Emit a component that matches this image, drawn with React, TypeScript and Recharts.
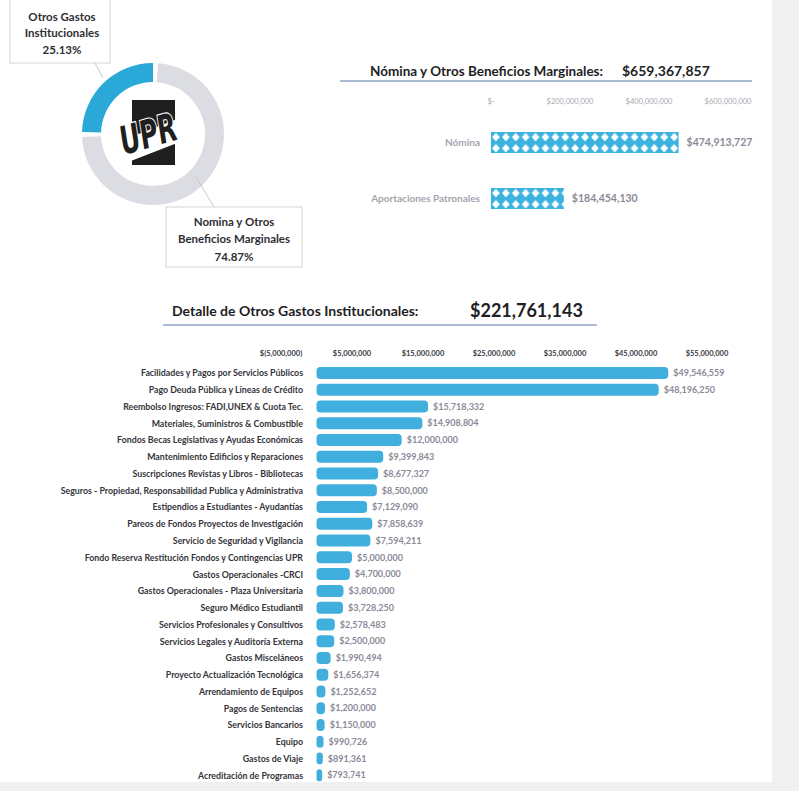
import React from "react";
import { BarChart, Bar, XAxis, YAxis, LabelList, PieChart, Pie, Cell } from "recharts";

const FONT = "Lato, 'Open Sans', sans-serif";

// === Distribución general (dona) ===
const resumenNombres = ["Otros Gastos Institucionales", "Nómina y Otros Beneficios Marginales"];
const resumenPct = [25.13, 74.87];
const resumenColores = ["#2aa9d9", "#dcdde3"];

// === Nómina y Otros Beneficios Marginales ===
const nominaTotal = "$659,367,857";
const nominaCategorias = ["Nómina", "Aportaciones Patronales"];
const nominaValores = [474913727, 184454130];
const nominaTicks = [0, 200000000, 400000000, 600000000];

// === Detalle de Otros Gastos Institucionales ===
const gastosTotal = "$221,761,143";
const gastosCategorias = [
  "Facilidades y Pagos por Servicios Públicos",
  "Pago Deuda Pública y Líneas de Crédito",
  "Reembolso Ingresos: FADI,UNEX & Cuota Tec.",
  "Materiales, Suministros & Combustible",
  "Fondos Becas Legislativas y Ayudas Económicas",
  "Mantenimiento Edificios y Reparaciones",
  "Suscripciones Revistas y Libros - Bibliotecas",
  "Seguros - Propiedad, Responsabilidad Publica y Administrativa",
  "Estipendios a Estudiantes  - Ayudantías",
  "Pareos de Fondos Proyectos de Investigación",
  "Servicio de  Seguridad y Vigilancia",
  "Fondo Reserva Restitución Fondos y Contingencias UPR",
  "Gastos Operacionales -CRCI",
  "Gastos Operacionales - Plaza Universitaria",
  "Seguro Médico Estudiantil",
  "Servicios Profesionales y Consultivos",
  "Servicios Legales y Auditoría Externa",
  "Gastos Misceláneos",
  "Proyecto Actualización Tecnológica",
  "Arrendamiento de Equipos",
  "Pagos de Sentencias",
  "Servicios  Bancarios",
  "Equipo",
  "Gastos de Viaje",
  "Acreditación de Programas",
];
const gastosValores = [
  49546559, 48196250, 15718332, 14908804, 12000000, 9399843, 8677327, 8500000,
  7129090, 7858639, 7594211, 5000000, 4700000, 3800000, 3728250, 2578483,
  2500000, 1990494, 1656374, 1252652, 1200000, 1150000, 990726, 891361, 793741,
];
const gastosTicks = [-5000000, 5000000, 15000000, 25000000, 35000000, 45000000, 55000000];

const moneda = (v: number) => {
  if (v === 0) return "$-";
  if (v < 0) return `$(${Math.abs(v).toLocaleString("en-US")})`;
  return `$${v.toLocaleString("en-US")}`;
};

const GastoTick = ({ x, y, payload }: any) => (
  <text
    x={x + 22}
    y={y}
    dy={3}
    textAnchor="end"
    fontSize={8.8}
    fontWeight={700}
    fill="#34343a"
    fontFamily={FONT}
  >
    {payload.value}
  </text>
);

export default function App() {
  const resumenData = resumenNombres.map((n, i) => ({ nombre: n, valor: resumenPct[i] }));
  const nominaData = nominaCategorias.map((c, i) => ({ categoria: c, valor: nominaValores[i] }));
  const gastosData = gastosCategorias.map((c, i) => ({ categoria: c, valor: gastosValores[i] }));

  return (
    <div
      style={{
        position: "absolute",
        left: 0,
        top: 0,
        width: 799,
        height: 791,
        background: "#ffffff",
        overflow: "hidden",
        fontFamily: FONT,
      }}
    >
      {/* === Franjas grises del escaneo === */}
      <div style={{ position: "absolute", left: 772, top: 0, width: 27, height: 791, background: "#eef1f0" }} />
      <div style={{ position: "absolute", left: 0, top: 782, width: 799, height: 9, background: "#eef1f0" }} />

      {/* === Dona === */}
      <div style={{ position: "absolute", left: 0, top: 0 }}>
        <PieChart width={300} height={270}>
          <Pie
            data={resumenData}
            dataKey="valor"
            nameKey="nombre"
            cx={148}
            cy={129}
            innerRadius={52}
            outerRadius={71}
            startAngle={90}
            endAngle={450}
            paddingAngle={4}
            stroke="none"
            isAnimationActive={false}
          >
            {resumenData.map((_, i) => (
              <Cell key={i} fill={resumenColores[i]} />
            ))}
          </Pie>
        </PieChart>
      </div>

      {/* === Nómina === */}
      <div style={{ position: "absolute", left: 0, top: 80 }}>
        <BarChart
          width={799}
          height={150}
          layout="vertical"
          data={nominaData}
          margin={{ top: 14, right: 71, bottom: 4, left: 0 }}
          barCategoryGap={0}
        >
          <defs>
            <pattern id="rombos" x="491" y="51.5" width="9.9" height="11.2" patternUnits="userSpaceOnUse">
              <rect width="9.9" height="11.2" fill="#3cb3de" />
              <polygon points="4.95,1.3 8.8,5.6 4.95,9.9 1.1,5.6" fill="#ffffff" />
            </pattern>
          </defs>
          <XAxis
            type="number"
            orientation="top"
            domain={[0, 600000000]}
            ticks={nominaTicks}
            tickFormatter={moneda}
            height={20}
            axisLine={false}
            tickLine={false}
            tickSize={0}
            tickMargin={10}
            tick={{ fontSize: 7.5, fill: "#a8a8b2", fontFamily: FONT }}
          />
          <YAxis
            type="category"
            dataKey="categoria"
            width={491}
            axisLine={false}
            tickLine={false}
            tickSize={0}
            tickMargin={11}
            tick={{ fontSize: 10, fill: "#a4a4ae", fontWeight: 700, fontFamily: FONT }}
          />
          <Bar dataKey="valor" fill="url(#rombos)" barSize={21} isAnimationActive={false}>
            <LabelList
              dataKey="valor"
              position="right"
              offset={8}
              formatter={(v: any) => moneda(Number(v))}
              style={{ fontSize: 10.5, fill: "#8a8a96", fontWeight: 700, fontFamily: FONT }}
            />
          </Bar>
        </BarChart>
      </div>

      {/* === Otros gastos === */}
      <div style={{ position: "absolute", left: 0, top: 330 }}>
        <BarChart
          width={799}
          height={454}
          layout="vertical"
          data={gastosData}
          margin={{ top: 15, right: 92, bottom: 0, left: 0 }}
          barCategoryGap={0}
        >
          <XAxis
            type="number"
            orientation="top"
            domain={[-5000000, 55000000]}
            ticks={gastosTicks}
            tickFormatter={moneda}
            height={20}
            axisLine={false}
            tickLine={false}
            tickSize={0}
            tickMargin={9}
            tick={{ fontSize: 7.5, fill: "#3a3a44", fontWeight: 700, fontFamily: FONT }}
          />
          <YAxis
            type="category"
            dataKey="categoria"
            width={281}
            axisLine={false}
            tickLine={false}
            tickSize={0}
            tickMargin={0}
            interval={0}
            tick={<GastoTick />}
          />
          <Bar dataKey="valor" fill="#41afdd" barSize={12} radius={4} isAnimationActive={false}>
            <LabelList
              dataKey="valor"
              position="right"
              offset={5}
              formatter={(v: any) => moneda(Number(v))}
              style={{ fontSize: 9, fill: "#8a8a98", fontWeight: 700, fontFamily: FONT }}
            />
          </Bar>
        </BarChart>
      </div>

      {/* === Títulos, llamadas y logo === */}
      <svg
        width={799}
        height={791}
        style={{ position: "absolute", left: 0, top: 0, pointerEvents: "none" }}
        fontFamily={FONT}
      >
        {/* llamada: otros gastos */}
        <rect x={10} y={-1} width={100} height={64} fill="#ffffff" stroke="#d6d6d6" />
        <line x1={95} y1={63} x2={103} y2={78} stroke="#c8c8c8" />
        <g fontSize={11.5} fontWeight={700} fill="#2e2e34" textAnchor="middle">
          <text x={62} y={21}>Otros Gastos</text>
          <text x={62} y={37}>Institucionales</text>
          <text x={62} y={54}>{`${resumenPct[0]}%`}</text>
        </g>

        {/* llamada: nómina */}
        <rect x={166} y={207} width={136} height={60} fill="#ffffff" stroke="#d6d6d6" />
        <line x1={196} y1={177} x2={214} y2={207} stroke="#c8c8c8" />
        <g fontSize={11.5} fontWeight={700} fill="#2e2e34" textAnchor="middle">
          <text x={234} y={226}>Nomina y Otros</text>
          <text x={234} y={243}>Beneficios Marginales</text>
          <text x={234} y={261}>{`${resumenPct[1]}%`}</text>
        </g>

        {/* logo UPR */}
        <rect x={132} y={100} width={43} height={65} fill="#1f1f1f" />
        <polygon points="118,142 190,114 190,138 118,166" fill="#ffffff" />
        <g transform="translate(152 147) rotate(-16) scale(0.82 1.15)">
          <text
            x={0}
            y={0}
            fontSize={34}
            fontWeight={700}
            fontStyle="italic"
            fontFamily="'DejaVu Sans Condensed', 'DejaVu Sans', sans-serif"
            textAnchor="middle"
            fill="#1f1f1f"
            stroke="#ffffff"
            strokeWidth={2}
            paintOrder="stroke"
          >
            UPR
          </text>
        </g>

        {/* título nómina */}
        <text x={370} y={76} fontSize={13.5} fontWeight={700} fill="#1e1e24">
          Nómina y Otros Beneficios Marginales:
        </text>
        <text x={622} y={76} fontSize={14} fontWeight={700} fill="#1e1e24">
          {nominaTotal}
        </text>
        <line x1={340} y1={81} x2={752} y2={81} stroke="#8fa4c4" strokeWidth={1.5} />

        {/* título otros gastos */}
        <text x={172} y={316} fontSize={14} fontWeight={700} fill="#1e1e24">
          Detalle de Otros Gastos Institucionales:
        </text>
        <text x={470} y={317} fontSize={18} fontWeight={700} fill="#1e1e24">
          {gastosTotal}
        </text>
        <line x1={163} y1={325} x2={597} y2={325} stroke="#8fa4c4" strokeWidth={1.5} />
      </svg>
    </div>
  );
}
